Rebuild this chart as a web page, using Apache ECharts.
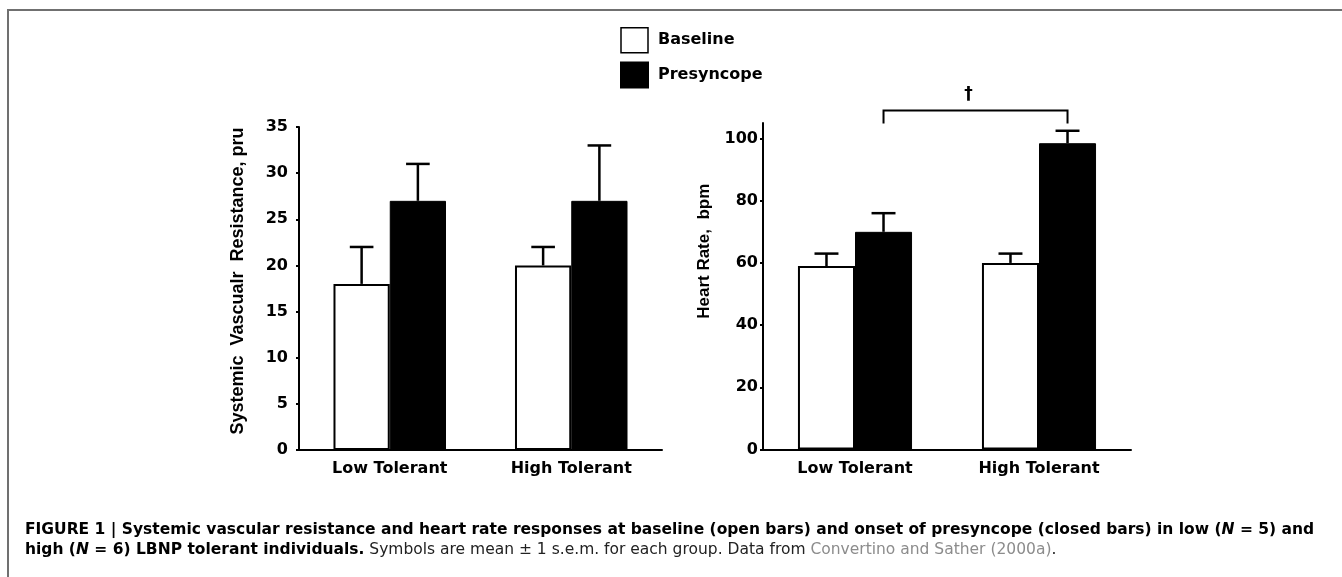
<!DOCTYPE html>
<html>
<head>
<meta charset="utf-8">
<script src="https://cdn.jsdelivr.net/npm/echarts@6/dist/echarts.min.js"></script>
<style>
  html, body { margin: 0; padding: 0; background: #fff; }
  #chart { width: 1342px; height: 577px; }
</style>
</head>
<body>
<div id="chart"></div>
<script>
const categories = ['Low Tolerant', 'High Tolerant']

// systemic vascular resistance, pru (mean, s.e.m.)
const svrBaseline = [18, 20]
const svrBaselineSem = [4, 2]
const svrPresyncope = [27, 27]
const svrPresyncopeSem = [4, 6]

// heart rate, bpm (mean, s.e.m.)
const hrBaseline = [59, 60]
const hrBaselineSem = [4, 3]
const hrPresyncope = [70, 98.5]
const hrPresyncopeSem = [6, 4]

const svrTicks = [0, 5, 10, 15, 20, 25, 30, 35]
const hrTicks = [0, 20, 40, 60, 80, 100]

// significance bracket between presyncope bars of the HR panel
const sigPair = [0, 1]
const sigLevel = 109
const sigMark = '\u2020'

const barCategoryGap = 0.38
const axisFont = 'DejaVu Sans'
const nameFont = 'Liberation Sans'
const captionFont = 'DejaVu Sans'

const chart = echarts.init(document.getElementById('chart'))

function barWidth(api) {
  return api.size([1, 0])[0] * (1 - barCategoryGap) / 2
}

function errorSeries(axisIndex, means, sems, side) {
  return {
    type: 'custom',
    xAxisIndex: axisIndex,
    yAxisIndex: axisIndex,
    z: 5,
    silent: true,
    encode: { x: 0, y: 1 },
    data: means.map((v, i) => [i, v, sems[i]]),
    renderItem(params, api) {
      const i = api.value(0)
      const v = api.value(1)
      const e = api.value(2)
      const bw = barWidth(api)
      const p0 = api.coord([i, v])
      const p1 = api.coord([i, v + e])
      const x = p0[0] + side * bw / 2
      const cap = bw * 0.42
      const style = { stroke: '#000', lineWidth: 2.5 }
      return {
        type: 'group',
        children: [
          { type: 'line', shape: { x1: x, y1: p0[1], x2: x, y2: p1[1] }, style },
          { type: 'line', shape: { x1: x - cap / 2, y1: p1[1], x2: x + cap / 2, y2: p1[1] }, style }
        ]
      }
    }
  }
}

function barSeries(name, axisIndex, data) {
  const open = name === 'Baseline'
  return {
    name,
    type: 'bar',
    xAxisIndex: axisIndex,
    yAxisIndex: axisIndex,
    barGap: '0%',
    barCategoryGap: (barCategoryGap * 100) + '%',
    data,
    itemStyle: open
      ? { color: '#fff', borderColor: '#000', borderWidth: 2 }
      : { color: '#000', borderColor: '#000', borderWidth: 1 }
  }
}

const yAxisCommon = {
  type: 'value',
  nameLocation: 'middle',
  splitLine: { show: false },
  axisLine: { show: true, lineStyle: { color: '#000', width: 2 } },
  axisTick: { show: true, length: 3, lineStyle: { color: '#000', width: 2 } }
}

const xAxisCommon = {
  type: 'category',
  data: categories,
  axisLine: { lineStyle: { color: '#000', width: 2 } },
  axisTick: { alignWithLabel: true, length: 4, lineStyle: { color: '#000', width: 2 } },
  axisLabel: { color: '#000', fontFamily: axisFont, fontWeight: 'bold', fontSize: 16, margin: 11 }
}

const capStyles = {
  b: { fontFamily: captionFont, fontWeight: 'bold', fontSize: 15.5, fill: '#000' },
  bi: { fontFamily: captionFont, fontWeight: 'bold', fontStyle: 'italic', fontSize: 15.5, fill: '#000' },
  r: { fontFamily: captionFont, fontSize: 15.5, fill: '#222' },
  g: { fontFamily: captionFont, fontSize: 15.5, fill: '#8c8c8c' }
}

chart.setOption({
  animation: false,
  backgroundColor: '#fff',
  legend: {
    data: [
      { name: 'Baseline', itemStyle: { color: '#fff', borderColor: '#000', borderWidth: 1.5 } },
      { name: 'Presyncope', itemStyle: { color: '#000' } }
    ],
    orient: 'vertical',
    left: 620,
    top: 27,
    padding: 0,
    icon: 'rect',
    itemWidth: 27,
    itemHeight: 25,
    itemGap: 8,
    selectedMode: false,
    textStyle: { color: '#000', fontFamily: axisFont, fontWeight: 'bold', fontSize: 16, padding: [0, 0, 0, 5] }
  },
  grid: [
    { left: 299, top: 127, width: 363, height: 323 },
    { left: 763, top: 123, width: 368, height: 326.5 }
  ],
  xAxis: [
    Object.assign({ gridIndex: 0 }, xAxisCommon),
    Object.assign({ gridIndex: 1 }, xAxisCommon)
  ],
  yAxis: [
    Object.assign({}, yAxisCommon, {
      gridIndex: 0,
      min: 0,
      max: 35,
      interval: 5,
      name: 'Systemic  Vascualr  Resistance, pru',
      nameGap: 52,
      nameTextStyle: { color: '#000', fontFamily: nameFont, fontWeight: 'bold', fontSize: 18, padding: [0, 0, 0, 15] },
      axisLabel: { color: '#000', fontFamily: axisFont, fontWeight: 'bold', fontSize: 16, margin: 11, customValues: svrTicks },
      axisTick: Object.assign({}, yAxisCommon.axisTick, { customValues: svrTicks })
    }),
    Object.assign({}, yAxisCommon, {
      gridIndex: 1,
      min: 0,
      max: 105,
      interval: 20,
      name: 'Heart Rate,  bpm',
      nameGap: 50,
      nameTextStyle: { color: '#000', fontFamily: nameFont, fontWeight: 'bold', fontSize: 17, padding: [0, 0, 0, 70] },
      axisLabel: { color: '#000', fontFamily: axisFont, fontWeight: 'bold', fontSize: 16, margin: 5, customValues: hrTicks },
      axisTick: Object.assign({}, yAxisCommon.axisTick, { customValues: hrTicks })
    })
  ],
  series: [
    barSeries('Baseline', 0, svrBaseline),
    barSeries('Presyncope', 0, svrPresyncope),
    barSeries('Baseline', 1, hrBaseline),
    barSeries('Presyncope', 1, hrPresyncope),
    errorSeries(0, svrBaseline, svrBaselineSem, -1),
    errorSeries(0, svrPresyncope, svrPresyncopeSem, 1),
    errorSeries(1, hrBaseline, hrBaselineSem, -1),
    errorSeries(1, hrPresyncope, hrPresyncopeSem, 1),
    {
      type: 'custom',
      xAxisIndex: 1,
      yAxisIndex: 1,
      silent: true,
      clip: false,
      encode: { x: 0, y: 2 },
      data: [[sigPair[0], sigPair[1], sigLevel]],
      renderItem(params, api) {
        const bw = barWidth(api)
        const a = api.coord([api.value(0), api.value(2)])
        const b = api.coord([api.value(1), api.value(2)])
        const x1 = a[0] + bw / 2
        const x2 = b[0] + bw / 2
        const y = a[1]
        return {
          type: 'group',
          children: [
            {
              type: 'polyline',
              shape: { points: [[x1, y + 13], [x1, y], [x2, y], [x2, y + 13]] },
              style: { stroke: '#000', lineWidth: 2, fill: null }
            },
            {
              type: 'text',
              x: (x1 + x2) / 2 - 7,
              y: y - 16,
              style: {
                text: sigMark,
                fill: '#000',
                font: 'bold 17px "DejaVu Sans"',
                align: 'center',
                verticalAlign: 'middle'
              }
            }
          ]
        }
      }
    }
  ],
  graphic: [
    {
      type: 'polyline',
      silent: true,
      shape: { points: [[8, 577], [8, 10], [1342, 10]] },
      style: { stroke: '#707070', lineWidth: 2, fill: null }
    },
    {
      type: 'text',
      left: 25,
      top: 522,
      style: {
        text: '{b|FIGURE 1 | Systemic vascular resistance and heart rate responses at baseline (open bars) and onset of presyncope (closed bars) in low (}{bi|N}{b| = 5) and}',
        rich: capStyles
      }
    },
    {
      type: 'text',
      left: 25,
      top: 542,
      style: {
        text: '{b|high (}{bi|N}{b| = 6) LBNP tolerant individuals.}{r| Symbols are mean \u00b1 1 s.e.m. for each group. Data from }{g|Convertino and Sather (2000a)}{r|.}',
        rich: capStyles
      }
    }
  ]
})
</script>
</body>
</html>
